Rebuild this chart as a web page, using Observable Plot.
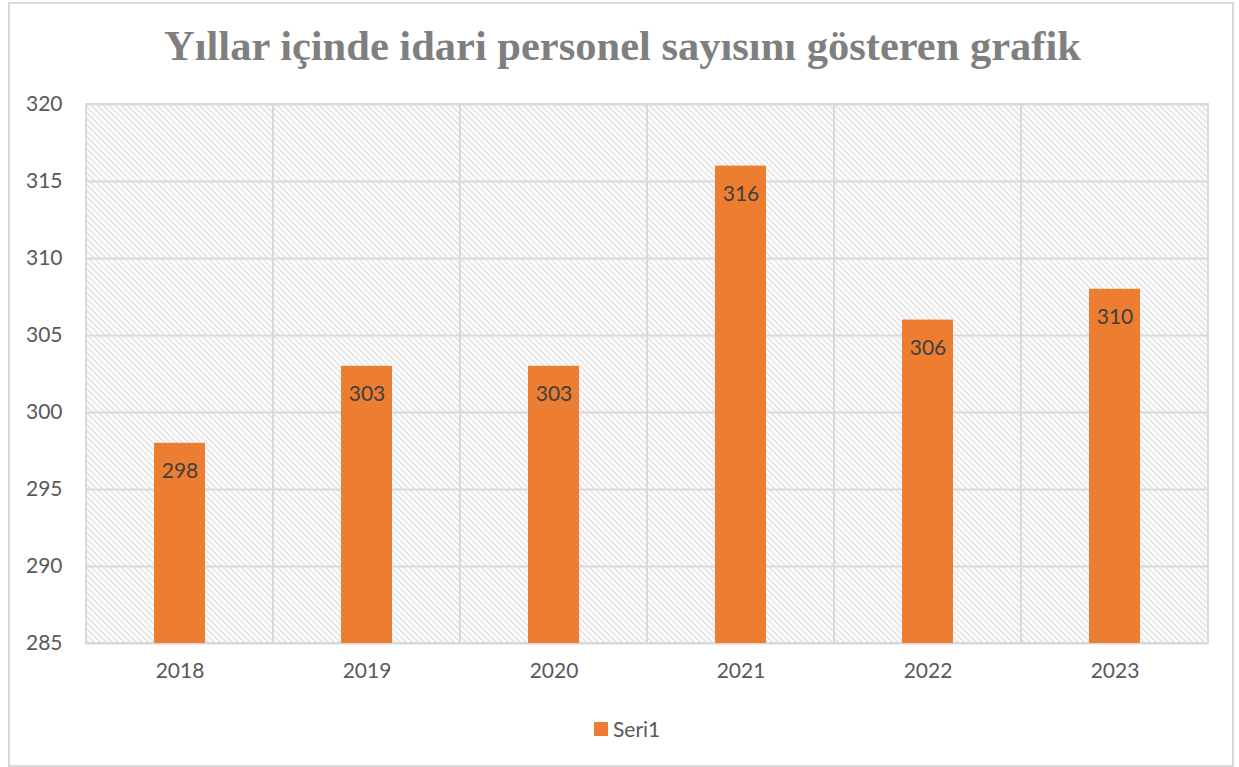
<!DOCTYPE html>
<html>
<head>
<meta charset="utf-8">
<script src="https://cdn.jsdelivr.net/npm/d3@7"></script>
<script src="https://cdn.jsdelivr.net/npm/@observablehq/plot@0.6"></script>
<style>
  body { margin: 0; background: #fff; }
  #wrap { position: relative; width: 1239px; height: 767px; overflow: hidden; font-family: Lato, "Open Sans", sans-serif; }
  #border { position: absolute; left: 8px; top: 2px; width: 1222px; height: 761px; border: 2px solid #d9d9d9; }
  #title { position: absolute; left: 3px; top: 25px; width: 1239px; text-align: center; font-family: "Liberation Serif", "Times New Roman", serif; font-weight: bold; font-size: 42.5px; line-height: 42px; color: #7f7f7f; white-space: nowrap; }
  #chart { position: absolute; left: 0; top: 80px; }
  #legend { position: absolute; left: 594px; top: 716px; display: flex; align-items: center; font-size: 21px; color: #595959; }
  #legend .sw { width: 14px; height: 14px; background: #ED7D31; margin-right: 5px; }
</style>
</head>
<body>
<div id="wrap">
  <div id="border"></div>
  <div id="title">Yıllar içinde idari personel sayısını gösteren grafik</div>
  <div id="chart"></div>
  <div id="legend"><div class="sw"></div><span>Seri1</span></div>
</div>
<script>
const years = ["2018", "2019", "2020", "2021", "2022", "2023"];
const values = [298, 303, 303, 316, 306, 308];
const labels = ["298", "303", "303", "316", "306", "310"];
const yTicks = [285, 290, 295, 300, 305, 310, 315, 320];
const yMin = 285, yMax = 320;

const rows = years.map((year, i) => ({year, value: values[i], label: labels[i]}));

const chart = Plot.plot({
  width: 1239,
  height: 620,
  marginTop: 24,
  marginBottom: 57,
  marginLeft: 85,
  marginRight: 31,
  style: {fontFamily: "Lato, 'Open Sans', sans-serif", fontSize: "21px", color: "#595959", background: "transparent"},
  x: {domain: years, padding: 0, tickSize: 0, tickPadding: 20, label: null},
  y: {domain: [yMin, yMax], ticks: yTicks, tickSize: 0, tickPadding: 23, label: null, tickFormat: d => String(d)},
  marks: [
    Plot.frame({fill: "url(#hatch)", stroke: null}),
    Plot.ruleY(yTicks, {stroke: "#d9d9d9", strokeWidth: 2, strokeOpacity: 1}),
    Plot.barY(rows, {x: "year", y1: yMin, y2: yMax, fill: "none", stroke: "#d9d9d9", strokeWidth: 2}),
    Plot.barY(rows, {x: "year", y1: yMin, y2: "value", fill: "#ED7D31", insetLeft: 68, insetRight: 68}),
    Plot.text(rows, {x: "year", y: "value", text: "label", dy: 28, fontSize: 21, fill: "#404040"})
  ]
});

const ns = "http://www.w3.org/2000/svg";
const defs = document.createElementNS(ns, "defs");
defs.innerHTML = '<pattern id="hatch" patternUnits="userSpaceOnUse" width="6" height="6"><path d="M-1,-1 L7,7 M-1,5 L1,7 M5,-1 L7,1" stroke="#dcdcdc" stroke-width="1.5"/></pattern>';
chart.insertBefore(defs, chart.firstChild);
document.getElementById("chart").appendChild(chart);
</script>
</body>
</html>
